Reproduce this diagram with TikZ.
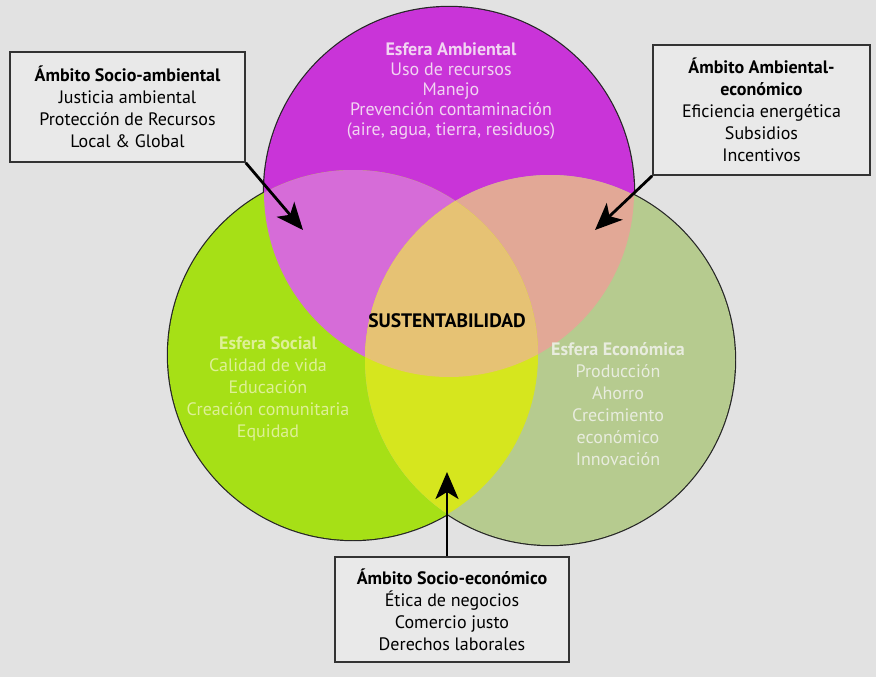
\documentclass[tikz,border=0pt]{standalone}
\usepackage{fontspec}
\setmainfont{PT Sans}
\usetikzlibrary{arrows.meta,positioning}
\definecolor{fondo}{RGB}{226,226,226}
\definecolor{cajafill}{RGB}{233,233,233}
\definecolor{ambiental}{RGB}{201,52,216}
\definecolor{social}{RGB}{166,224,22}
\definecolor{economica}{RGB}{182,203,143}
\definecolor{ambsoc}{RGB}{214,108,216}
\definecolor{ambeco}{RGB}{226,168,150}
\definecolor{soceco}{RGB}{214,230,30}
\definecolor{centro}{RGB}{230,194,116}
\definecolor{txtamb}{RGB}{242,212,242}
\definecolor{txtsoc}{RGB}{222,240,150}
\definecolor{txteco}{RGB}{232,236,222}

\begin{document}
\begin{tikzpicture}[x=1pt,y=-1pt,
  caja/.style={draw=black!80,line width=1.6pt,fill=cajafill,align=center,
    inner sep=0pt,font=\fontsize{18}{22}\selectfont},
  esfera/.style={align=center,font=\fontsize{18}{22}\selectfont},
  flecha/.style={line width=2.8pt,-{Stealth[length=27pt,width=23pt,inset=7pt]}}]
\fill[fondo] (0,0) rectangle (876,677);
\def\R{185pt}
\coordinate (A) at (449,192);
\coordinate (S) at (353,355);
\coordinate (E) at (550,360);
% outline first, the fills cover its inner half
\foreach \c in {A,S,E}
  \draw[line width=2.4pt,black!85] (\c) circle[radius=\R];
\fill[ambiental] (A) circle[radius=\R];
\fill[social] (S) circle[radius=\R];
\fill[economica] (E) circle[radius=\R];
\begin{scope}
  \clip (A) circle[radius=\R];
  \fill[ambsoc] (S) circle[radius=\R];
  \fill[ambeco] (E) circle[radius=\R];
\end{scope}
\begin{scope}
  \clip (S) circle[radius=\R];
  \fill[soceco] (E) circle[radius=\R];
  \clip (A) circle[radius=\R];
  \fill[centro] (E) circle[radius=\R];
\end{scope}

\node[esfera,text=txtamb,font=\fontsize{18}{20}\selectfont] (tamb) at (451,91)
  {\textbf{Esfera Ambiental}\\Uso de recursos\\Manejo\\Prevención contaminación\\(aire, agua, tierra, residuos)};
\node[esfera,text=txtsoc] (tsoc) at (268,389)
  {\textbf{Esfera Social}\\Calidad de vida\\Educación\\Creación comunitaria\\Equidad};
\node[esfera,text=txteco] (teco) at (618,404)
  {\textbf{Esfera Económica}\\Producción\\Ahorro\\Crecimiento\\económico\\Innovación};
\node[font=\fontsize{19.5}{20}\selectfont\bfseries] (sust) at (447,321) {SUSTENTABILIDAD};

\node[caja,minimum width=235,minimum height=110] (socamb) at (127.5,107)
  {\textbf{Ámbito Socio-ambiental}\\Justicia ambiental\\Protección de Recursos\\Local \& Global};
\node[caja,minimum width=217,minimum height=130] (ambeco) at (761.5,110)
  {\textbf{Ámbito Ambiental-}\\\textbf{económico}\\Eficiencia energética\\Subsidios\\Incentivos};
\node[caja,minimum width=234,minimum height=105] (soceco) at (452,609.5)
  {\textbf{Ámbito Socio-económico}\\Ética de negocios\\Comercio justo\\Derechos laborales};

\coordinate (pAS) at (303,230);
\coordinate (pAE) at (595,230);
\coordinate (pSE) at (447,472);
\draw[flecha] (socamb.south east) -- (pAS);
\draw[flecha] (ambeco.south west) -- (pAE);
\draw[flecha] (soceco.north -| pSE) -- (pSE);
\end{tikzpicture}
\end{document}
